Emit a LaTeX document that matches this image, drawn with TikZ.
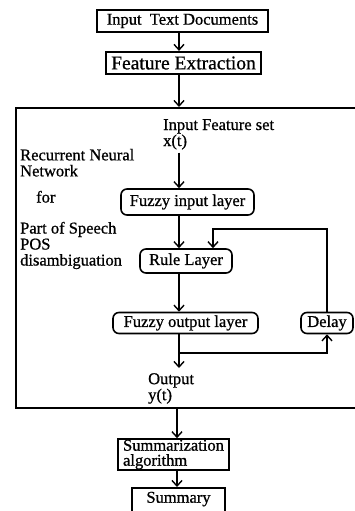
\documentclass[tikz,border=0pt]{standalone}
\usepackage{fontspec}
\setmainfont{Liberation Serif}[FakeBold=0.8]
\usetikzlibrary{arrows.meta}
\begin{document}
\begin{tikzpicture}[x=1pt,y=-1pt,
    font=\fontsize{16.5}{16}\selectfont,
    thickbox/.style={draw, line width=2.2pt, inner sep=0pt},
    plainbox/.style={draw, line width=1.6pt, inner sep=0pt},
    layer/.style={draw, rounded corners=6pt, line width=1.6pt, inner sep=0pt},
    txt/.style={align=left, anchor=north west, inner sep=0pt},
    arr/.style={line width=1.4pt, -{Straight Barb[length=5.5pt,width=10pt]}}]
        \useasboundingbox (0,0) rectangle (355,511);

        % pipeline boxes
        \node[thickbox, minimum width=171pt, minimum height=22pt] (doc) at (182.5,21) {Input\ \ Text Documents};
        \node[thickbox, minimum width=155pt, minimum height=22pt, font=\fontsize{19.5}{20}\selectfont] (feat) at (183.5,63) {Feature Extraction};
        \node[draw, line width=1.8pt, minimum width=380pt, minimum height=300pt, anchor=north west] (rnn) at (15,107) {};

        % network
        \node[txt, inner ysep=3pt] (inp) at (163,116) {Input Feature set\\x(t)};
        \node[layer, minimum width=133pt, minimum height=26pt] (fin) at (187.5,202) {Fuzzy input layer};
        \node[layer, minimum width=92pt, minimum height=24pt] (rule) at (186,261) {Rule Layer};
        \node[layer, minimum width=145pt, minimum height=21pt] (fout) at (185.5,323) {Fuzzy output layer};
        \node[layer, minimum width=52pt, minimum height=21pt] (delay) at (327,323) {Delay};
        \node[txt, inner ysep=5pt] (outp) at (148,368) {Output\\y(t)};

        \node[txt] (rnnlbl) at (20,148.7) {Recurrent Neural\\Network};
        \node[txt] (forlbl) at (36,190.7) {for};
        \node[txt] (poslbl) at (20,221.7) {Part of Speech\\POS\\disambiguation};

        % summary
        \node[plainbox, minimum width=111pt, minimum height=31pt, align=left, font=\fontsize{16.5}{15}\selectfont] (summ) at (173.5,454.5) {Summarization\\algorithm};
        \node[plainbox, minimum width=93pt, anchor=north, inner ysep=4pt, text depth=22pt] (sumy) at (178.5,487) {Summary};

        \coordinate (ax) at (179,0);
        \coordinate (axb) at (177,0);
        \coordinate (br) at (179,353);
        \coordinate (fb) at (213,229);

        \draw[arr] (doc.south -| ax) -- (feat.north -| ax);
        \draw[arr] (feat.south -| ax) -- (rnn.north -| ax);
        \draw[arr] (inp.south -| ax) -- (fin.north -| ax);
        \draw[arr] (fin.south -| ax) -- (rule.north -| ax);
        \draw[arr] (rule.south -| ax) -- (fout.north -| ax);
        \draw[arr] (fout.south -| ax) -- (outp.north -| ax);
        \draw[arr] (br) -| (delay.south);
        \draw[arr] (delay.north) |- (fb) -- (rule.north -| fb);
        \draw[arr] (rnn.south -| axb) -- (summ.north -| axb);
        \draw[arr] (summ.south -| axb) -- (sumy.north -| axb);

\end{tikzpicture}
\end{document}
